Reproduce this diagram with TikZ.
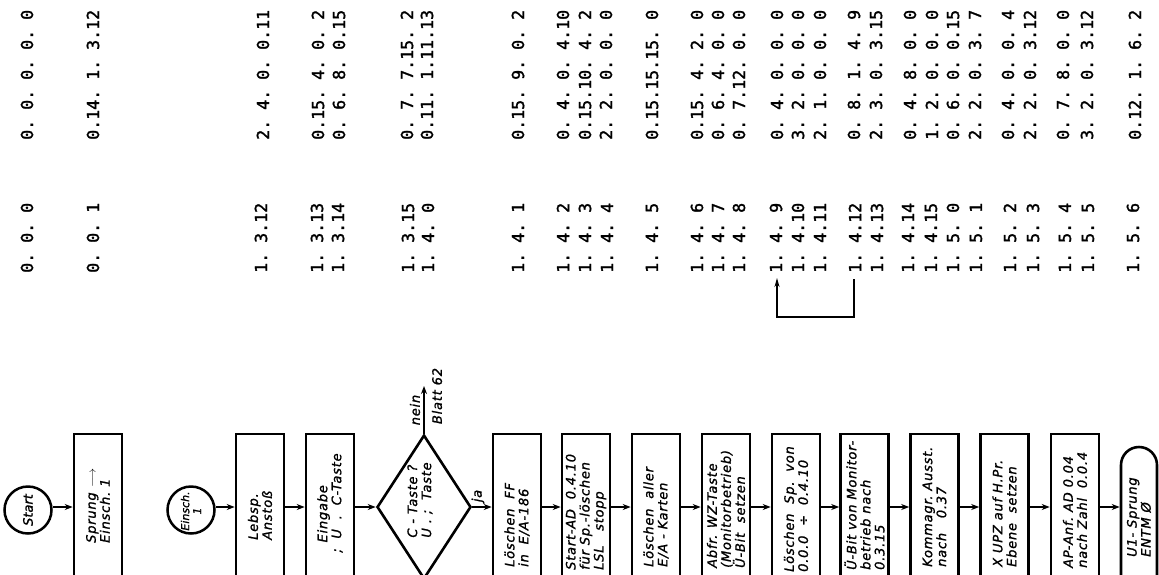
\documentclass[tikz,border=0pt]{standalone}
\usepackage{fontspec}
\newfontfamily\numfont{DejaVu Sans Mono}[FakeBold=1.6]
\newfontfamily\boxfont{DejaVu Sans}[LetterSpace=6, FakeBold=1.2]
\newfontfamily\circfont{DejaVu Sans}[FakeBold=1.2]
\newcommand\numspacing{\spaceskip=10pt\relax\xspaceskip=10pt\relax}
\usetikzlibrary{shapes.geometric,arrows.meta}
\tikzset{
  num/.style={font=\numfont\fontsize{16.6}{20}\selectfont, execute at begin node=\numspacing, rotate=90, anchor=west, inner sep=0pt},
  lbl/.style={font=\boxfont\itshape\fontsize{13}{14}\selectfont, rotate=90, anchor=west, align=left, inner sep=0pt},
  box/.style={draw, line width=2.6pt, minimum width=48pt, minimum height=146pt, inner sep=0pt},
  circ/.style={draw, circle, line width=2.5pt, minimum size=47pt, inner sep=0pt},
  flow/.style={line width=1.7pt, -{Stealth[length=8pt,width=6pt]}},
  loop/.style={line width=1.2pt, -{Stealth[length=9pt,width=5pt]}}
}
\begin{document}
\begin{tikzpicture}[x=1pt,y=-1pt]
\clip (0,0) rectangle (1159,574);
\fill[white] (0,0) rectangle (1159,574);

% ---- address table (top column) ----
\node[num] (t1)  at (27,140)  {0. 0. 0. 0. 0};
\node[num] (t2)  at (93,140)  {0.14. 1. 3.12};
\node[num] (t3)  at (263,140) {2. 4. 0. 0.11};
\node[num] (t4)  at (318,140) {0.15. 4. 0. 2};
\node[num] (t5)  at (339,140) {0. 6. 8. 0.15};
\node[num] (t6)  at (407,140) {0. 7. 7.15. 2};
\node[num] (t7)  at (427,140) {0.11. 1.11.13};
\node[num] (t8)  at (518,140) {0.15. 9. 0. 2};
\node[num] (t9)  at (563,140) {0. 4. 0. 4.10};
\node[num] (t10) at (585,140) {0.15.10. 4. 2};
\node[num] (t11) at (606,140) {2. 2. 0. 0. 0};
\node[num] (t12) at (652,140) {0.15.15.15. 0};
\node[num] (t13) at (697,140) {0.15. 4. 2. 0};
\node[num] (t14) at (718,140) {0. 6. 4. 0. 0};
\node[num] (t15) at (739,140) {0. 7.12. 0. 0};
\node[num] (t16) at (777,140) {0. 4. 0. 0. 0};
\node[num] (t17) at (798,140) {3. 2. 0. 0. 0};
\node[num] (t18) at (820,140) {2. 1. 0. 0. 0};
\node[num] (t19) at (854,140) {0. 8. 1. 4. 9};
\node[num] (t20) at (876,140) {2. 3. 0. 3.15};
\node[num] (t21) at (910,140) {0. 4. 8. 0. 0};
\node[num] (t22) at (932,140) {1. 2. 0. 0. 0};
\node[num] (t23) at (953,140) {0. 6. 0. 0.15};
\node[num] (t24) at (975,140) {2. 2. 0. 3. 7};
\node[num] (t25) at (1008,140) {0. 4. 0. 0. 4};
\node[num] (t26) at (1030,140) {2. 2. 0. 3.12};
\node[num] (t27) at (1063,140) {0. 7. 8. 0. 0};
\node[num] (t28) at (1087,140) {3. 2. 0. 3.12};
\node[num] (t29) at (1135,140) {0.12. 1. 6. 2};

% ---- address table (middle column) ----
\node[num] (m1)  at (27,273)  {0. 0. 0};
\node[num] (m2)  at (93,273)  {0. 0. 1};
\node[num] (m3)  at (261,273) {1. 3.12};
\node[num] (m4)  at (317,273) {1. 3.13};
\node[num] (m5)  at (338,273) {1. 3.14};
\node[num] (m6)  at (408,273) {1. 3.15};
\node[num] (m7)  at (428,273) {1. 4. 0};
\node[num] (m8)  at (518,273) {1. 4. 1};
\node[num] (m9)  at (563,273) {1. 4. 2};
\node[num] (m10) at (585,273) {1. 4. 3};
\node[num] (m11) at (607,273) {1. 4. 4};
\node[num] (m12) at (652,273) {1. 4. 5};
\node[num] (m13) at (697,273) {1. 4. 6};
\node[num] (m14) at (718,273) {1. 4. 7};
\node[num] (m15) at (739,273) {1. 4. 8};
\node[num] (m16) at (776,273) {1. 4. 9};
\node[num] (m17) at (798,273) {1. 4.10};
\node[num] (m18) at (820,273) {1. 4.11};
\node[num] (m19) at (855,273) {1. 4.12};
\node[num] (m20) at (877,273) {1. 4.13};
\node[num] (m21) at (908,273) {1. 4.14};
\node[num] (m22) at (931,273) {1. 4.15};
\node[num] (m23) at (953,273) {1. 5. 0};
\node[num] (m24) at (976,273) {1. 5. 1};
\node[num] (m25) at (1010,273) {1. 5. 2};
\node[num] (m26) at (1033,273) {1. 5. 3};
\node[num] (m27) at (1065,273) {1. 5. 4};
\node[num] (m28) at (1088,273) {1. 5. 5};
\node[num] (m29) at (1133,273) {1. 5. 6};

% loop arrow
\coordinate (la) at (854,279);
\coordinate (lb) at (777,278);
\draw[loop] (la) -- ++(0,38) -| (lb);

% ---- flowchart ----
\node[circ] (c1) at (28,510) {};
\node[lbl, anchor=center, font=\circfont\itshape\fontsize{13}{14}\selectfont] at (28,510) {Start};
\node[box] (b1) at (98,507) {};
\node[lbl] at (98,543) {Sprung $\longrightarrow$\\Einsch.\ 1};

\node[circ] (c2) at (191,510) {};
\node[lbl, anchor=center, align=center, font=\circfont\itshape\fontsize{11}{12}\selectfont] at (191,511) {Einsch.\\1};
\node[box] (b2) at (260,507) {};
\node[lbl] at (260,540) {Lebsp.\\Anstoß};
\node[box] (b3) at (330,507) {};
\node[lbl] at (330,553) {\hspace*{0.8em}Eingabe\\;\ \ U\ \ .\ \ C-Taste};

\node[draw, diamond, line width=2.6pt, minimum width=94pt, minimum height=144pt, inner sep=0pt] (d) at (424,507) {};
\node[lbl, anchor=center] at (420,500) {C - Taste ?\\U\ .\ ;\ \ Taste};
\coordinate (blatt) at (424,386);
\node[lbl, anchor=center] at (415,410) {nein};
\node[lbl, anchor=center] at (437,396) {Blatt\ 62};
\node[lbl, anchor=center] at (478,496) {ja};

\node[box] (b4) at (517,507) {};
\node[lbl] at (517,567) {Löschen\ \ FF\\in\ \ E/A-186};
\node[box] (b5) at (586,507) {};
\node[lbl] at (586,570) {Start-AD\ \ 0.4.10\\für Sp.-löschen\\LSL\ \ \ stopp};
\node[box] (b6) at (656,507) {};
\node[lbl] at (656,567) {Löschen\ \ aller\\E/A - Karten};
\node[box] (b7) at (726,507) {};
\node[lbl] at (726,568) {Abfr. WZ-Taste\\(Monitorbetrieb)\\Ü-Bit\ \ setzen};
\node[box] (b8) at (796,507) {};
\node[lbl] at (796,572) {Löschen\ \ Sp.\ \ von\\0.0.0\ \ ÷\ \ 0.4.10};
\node[box] (b9) at (864.5,507) {};
\node[lbl] at (864.5,570) {Ü-Bit von Monitor-\\betrieb nach\\0.3.15};
\node[box] (b10) at (934.5,507) {};
\node[lbl] at (934.5,567) {Kommagr.\ Ausst.\\nach\ \ \ 0.37};
\node[box] (b11) at (1004.5,507) {};
\node[lbl] at (1004.5,567) {X UPZ auf H.Pr.\\Ebene\ \ setzen};
\node[box] (b12) at (1075,507) {};
\node[lbl] at (1075,568) {AP-Anf.\ AD 0.04\\nach Zahl\ \ 0.0.4};
\node[draw, line width=2.6pt, rounded corners=18pt, minimum width=36pt, minimum height=240pt, inner sep=0pt] (b13) at (1139,567) {};
\node[lbl] at (1139,557) {U1- Sprung\\ENTM Ø};

% connectors
\draw[flow] (c1.east |- b1.west) -- (b1.west);
\draw[flow] (c2.east |- b2.west) -- (b2.west);
\draw[flow] (b2.east) -- (b3.west);
\draw[flow] (b3.east) -- (d.west);
\draw[flow] (d.north) -- (blatt);
\draw[flow] (d.east) -- (b4.west);
\draw[flow] (b4.east) -- (b5.west);
\draw[flow] (b5.east) -- (b6.west);
\draw[flow] (b6.east) -- (b7.west);
\draw[flow] (b7.east) -- (b8.west);
\draw[flow] (b8.east) -- (b9.west);
\draw[flow] (b9.east) -- (b10.west);
\draw[flow] (b10.east) -- (b11.west);
\draw[flow] (b11.east) -- (b12.west);
\draw[flow] (b12.east) -- (b13.west |- b12.east);
\end{tikzpicture}
\end{document}
